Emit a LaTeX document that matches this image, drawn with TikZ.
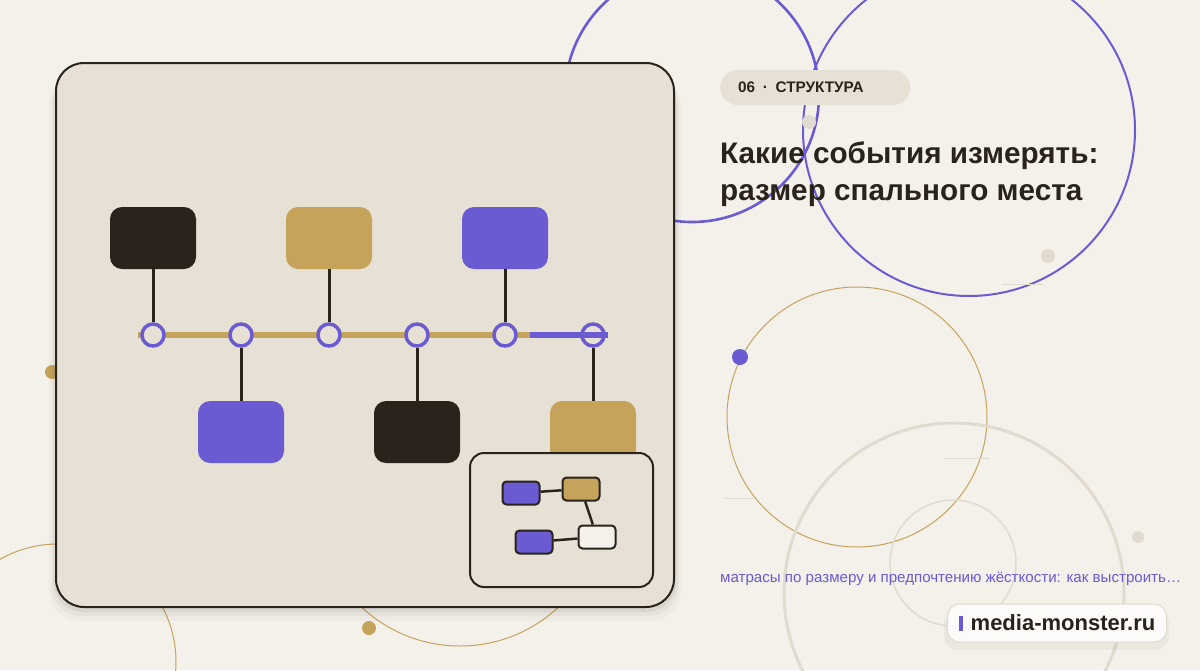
\documentclass[tikz,border=0pt]{standalone}
\usepackage{fontspec}
\setmainfont{Liberation Sans}
\usetikzlibrary{positioning}

\definecolor{paper}{HTML}{F4F1EA}
\definecolor{cardfill}{HTML}{E7E0D4}
\definecolor{ink}{HTML}{29231C}
\definecolor{gold}{HTML}{C6A35B}
\definecolor{violet}{HTML}{6A5BD2}
\definecolor{haze}{HTML}{E1DBCF}

\begin{document}
\begin{tikzpicture}[x=1pt, y=-1pt]
    \useasboundingbox (0,0) rectangle (1200,670);
    \fill[paper] (0,0) rectangle (1200,670);

    \tikzset{EventBox/.style={rounded corners=12pt, minimum width=86pt, minimum height=62pt, inner sep=0pt}}
    \tikzset{TickStyle/.style={circle, draw=violet, line width=3.5pt, fill=cardfill, minimum size=22pt, inner sep=0pt}}
    \tikzset{StemStyle/.style={ink, line width=3pt}}
    \tikzset{MiniBox/.style={draw=ink, line width=2pt, rounded corners=4pt, minimum width=37pt, minimum height=23pt, inner sep=0pt}}

    % decoration behind
    \draw[violet, line width=2.6pt] (692,95) circle[radius=127];
    \draw[violet, line width=2pt] (969,130) circle[radius=166];
    \draw[gold, line width=1pt] (857,417) circle[radius=130];
    \draw[haze, line width=3pt] (954,593) circle[radius=170];
    \draw[haze, line width=1.5pt] (953,563) circle[radius=63];
    \draw[gold, line width=1pt] (58,662) circle[radius=118];
    \draw[gold, line width=1pt] (460,502) circle[radius=144];
    \draw[haze, line width=1pt] (945,458) -- (990,458);
    \draw[haze, line width=1pt] (724,498) -- (753,498);
    \draw[haze, line width=1pt] (1002,284) -- (1044,284);
    \fill[violet] (740,357) circle[radius=8];
    \fill[haze] (1138,537) circle[radius=6];
    \fill[haze] (1048,256) circle[radius=7];
    \fill[haze] (809,122) circle[radius=7];
    \fill[gold] (369,628) circle[radius=7];
    \fill[gold] (52,372) circle[radius=7];

    % card
    \foreach \s/\o in {14/0.025, 9/0.035, 5/0.05}
        \fill[black, opacity=\o, rounded corners=30pt] (56-\s/2,75) rectangle (674+\s/2,607+\s);
    \node[draw=ink, line width=2pt, fill=cardfill, rounded corners=28pt,
          minimum width=618pt, minimum height=544pt] (card) at (365,335) {};

    % timeline
    \coordinate (trackL) at (138,335);
    \coordinate (trackM) at (530,335);
    \coordinate (trackR) at (608,335);
    \draw[gold, line width=6pt] (trackL) -- (trackM);
    \foreach \i/\x in {1/153, 2/241, 3/329, 4/417, 5/505, 6/593}
        \node[TickStyle] (t\i) at (\x,335) {};
    \draw[violet, line width=6pt] (trackM) -- (trackR);

    \node[EventBox, fill=ink]    (e1) at (153,238) {};
    \node[EventBox, fill=gold]   (e3) at (329,238) {};
    \node[EventBox, fill=violet] (e5) at (505,238) {};
    \node[EventBox, fill=violet] (e2) at (241,432) {};
    \node[EventBox, fill=ink]    (e4) at (417,432) {};
    \node[EventBox, fill=gold]   (e6) at (593,432) {};

    \draw[StemStyle] (e1.south) -- (t1.north);
    \draw[StemStyle] (e3.south) -- (t3.north);
    \draw[StemStyle] (e5.south) -- (t5.north);
    \draw[StemStyle] (t2.south) -- (e2.north);
    \draw[StemStyle] (t4.south) -- (e4.north);
    \draw[StemStyle] (t6.south) -- (e6.north);

    % inset
    \node[draw=ink, line width=2pt, fill=cardfill, rounded corners=14pt,
          minimum width=183pt, minimum height=134pt] (inset) at (561.5,520) {};
    \node[MiniBox, fill=violet] (m1) at (521,493) {};
    \node[MiniBox, fill=gold]   (m2) at (581,489) {};
    \node[MiniBox, fill=violet] (m3) at (534,542) {};
    \node[MiniBox, fill=paper]  (m4) at (597,537) {};
    \draw[ink, line width=2.5pt] (m1) -- (m2);
    \draw[ink, line width=2.5pt] (m2) -- (m4);
    \draw[ink, line width=2.5pt] (m3) -- (m4);

    % text column
    \node[fill=cardfill, rounded corners=17.5pt, minimum height=35pt, inner xsep=18pt,
          text width=154pt, align=left, anchor=west, text=ink,
          font=\fontsize{15.3}{18}\selectfont\bfseries] (tag) at (720,87.5) {06 \,·\, СТРУКТУРА};
    \node[anchor=base west, inner sep=0pt, text=ink, font=\fontsize{29.7}{36}\selectfont\bfseries]
        (title1) at (720,163) {Какие события измерять:};
    \node[anchor=base west, inner sep=0pt, text=ink, font=\fontsize{29.7}{36}\selectfont\bfseries]
        (title2) at (720,200) {размер спального места};
    \node[anchor=base west, inner sep=0pt, text=violet, font=\fontsize{15.1}{18}\selectfont]
        (lead) at (720,582) {матрасы по размеру и предпочтению жёсткости: как выстроить…};

    % badge
    \fill[black, opacity=0.04, rounded corners=14pt] (944,610) rectangle (1169,650);
    \node[draw=haze, line width=1pt, fill=white!70!paper, rounded corners=12pt,
          minimum width=219pt, minimum height=38pt, inner xsep=11pt, anchor=west,
          text=ink, font=\fontsize{22}{26}\selectfont\bfseries]
        (badge) at (947,623) {{\color{violet}\rule[-1pt]{4pt}{15pt}}\hspace{8pt}media-monster.ru};
\end{tikzpicture}
\end{document}
